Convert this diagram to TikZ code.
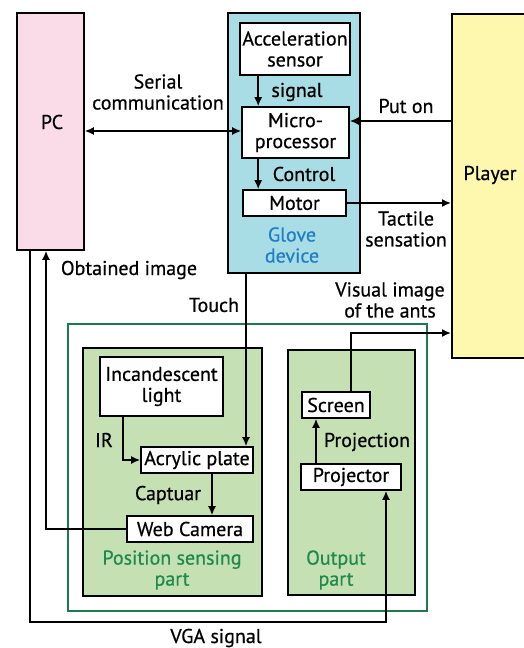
\documentclass[tikz,border=0pt]{standalone}
\usepackage{fontspec}
\setmainfont{PT Sans}[FakeBold=0.6]
\usetikzlibrary{arrows,arrows.meta}
\definecolor{pcpink}{HTML}{F9DCE8}
\definecolor{glovecyan}{HTML}{A9DDE5}
\definecolor{playeryellow}{HTML}{FEF8AE}
\definecolor{partgreen}{HTML}{C5E0B3}
\definecolor{framegreen}{HTML}{1E7A4E}
\definecolor{txtgreen}{HTML}{1F8A4C}
\definecolor{txtblue}{HTML}{1E7FC4}
\begin{document}
\begin{tikzpicture}[x=1pt,y=-1pt,line width=1.6pt,>={Latex[length=9pt,width=8pt]},
  font=\fontsize{20}{21}\selectfont]
\tikzstyle {blk}=[rectangle, draw=black, inner sep=0pt, align=center]
\tikzstyle {wbox}=[blk, fill=white]
\tikzstyle {partbox}=[blk, fill=partgreen]
\tikzstyle {lbl}=[align=center, inner sep=0pt]
\useasboundingbox (0,0) rectangle (523,648);
% big blocks
\node (PC) [blk, fill=pcpink, minimum width=67pt, minimum height=237pt] at (50.5,131.5) {};
\node at (52,122) {PC};
\node (player) [blk, fill=playeryellow, minimum width=90pt, minimum height=344pt, anchor=north west] at (451,13) {};
\node at (490,175) {Player};
\node (glove) [blk, fill=glovecyan, minimum width=132pt, minimum height=260pt] at (294,143) {};
\node (acc) [wbox, minimum width=110pt, minimum height=52pt] at (295,49) {Acceleration\\sensor};
\node (micro) [wbox, minimum width=107pt, minimum height=51pt] at (295.5,132.5) {Micro-\\processor};
\node (motor) [wbox, minimum width=103pt, minimum height=26pt] at (294.5,203) {Motor};
\node [lbl, text=txtblue] at (292,245) {Glove\\device};
% table part
\node (table) [rectangle, draw=framegreen, minimum width=359pt, minimum height=287pt, anchor=north west] at (67,323) {};
\node (sensing) [partbox, minimum width=179pt, minimum height=248pt] at (172.5,472) {};
\node (output) [partbox, minimum width=127pt, minimum height=245pt] at (351.5,472.5) {};
\node (incand) [wbox, minimum width=123pt, minimum height=59pt] at (161.5,386.5) {Incandescent\\light};
\node (acrylic) [wbox, minimum width=112pt, minimum height=26pt] at (197,460) {Acrylic plate};
\node (webcam) [wbox, minimum width=126pt, minimum height=26pt] at (190,529) {Web Camera};
\node (screen) [wbox, minimum width=68pt, minimum height=26pt] at (336,405) {Screen};
\node (projector) [wbox, minimum width=100pt, minimum height=26pt] at (351,477) {Projector};
\node [lbl, text=txtgreen] at (172,570) {Position sensing\\part};
\node [lbl, text=txtgreen] at (336,570) {Output\\part};
% connectors
\draw[<->] (PC.east |- 0,131) -- (micro.west |- 0,131);
\draw[->] ([xshift=19pt]acc.south west) -- ([xshift=17pt]micro.north west);
\draw[->] ([xshift=17pt]micro.south west) -- ([xshift=16pt]motor.north west);
\draw[->] (player.west |- 0,121) -- (micro.east |- 0,121);
\draw[->] (motor.east) -- (motor.east -| player.west);
\draw[->] (webcam.west) -| ([xshift=-4.5pt]PC.south);
\coordinate (vgacorner) at (30,622);
\draw[->] ([xshift=-20.5pt]PC.south) -- (vgacorner) -| ([xshift=35pt]projector.south);
\draw[->] ([xshift=-48pt]glove.south) -- ([xshift=49pt]acrylic.north);
\draw[->] ([xshift=-38.5pt]incand.south) |- (acrylic.west);
\draw[->] ([xshift=15pt]acrylic.south) -- ([xshift=22pt]webcam.north);
\draw[->] ([xshift=-35pt]projector.north) -- ([xshift=-20pt]screen.south);
\draw[->] ([xshift=15pt]screen.north) |- (player.west |- 0,333);
% labels
\node [lbl] at (158,92) {Serial\\communication};
\node [lbl] at (297,92) {signal};
\node [lbl] at (304,174) {Control};
\node [lbl] at (406,106) {Put on};
\node [lbl] at (406,229) {Tactile\\sensation};
\node [lbl] at (129,270) {Obtained image};
\node [lbl] at (214,305) {Touch};
\node [lbl] at (390,300) {Visual image\\of the ants};
\node [lbl] at (104,440) {IR};
\node [lbl] at (168,495) {Captuar};
\node [lbl] at (367,442) {Projection};
\node [lbl] at (216,638) {VGA signal};
\end{tikzpicture}
\end{document}
